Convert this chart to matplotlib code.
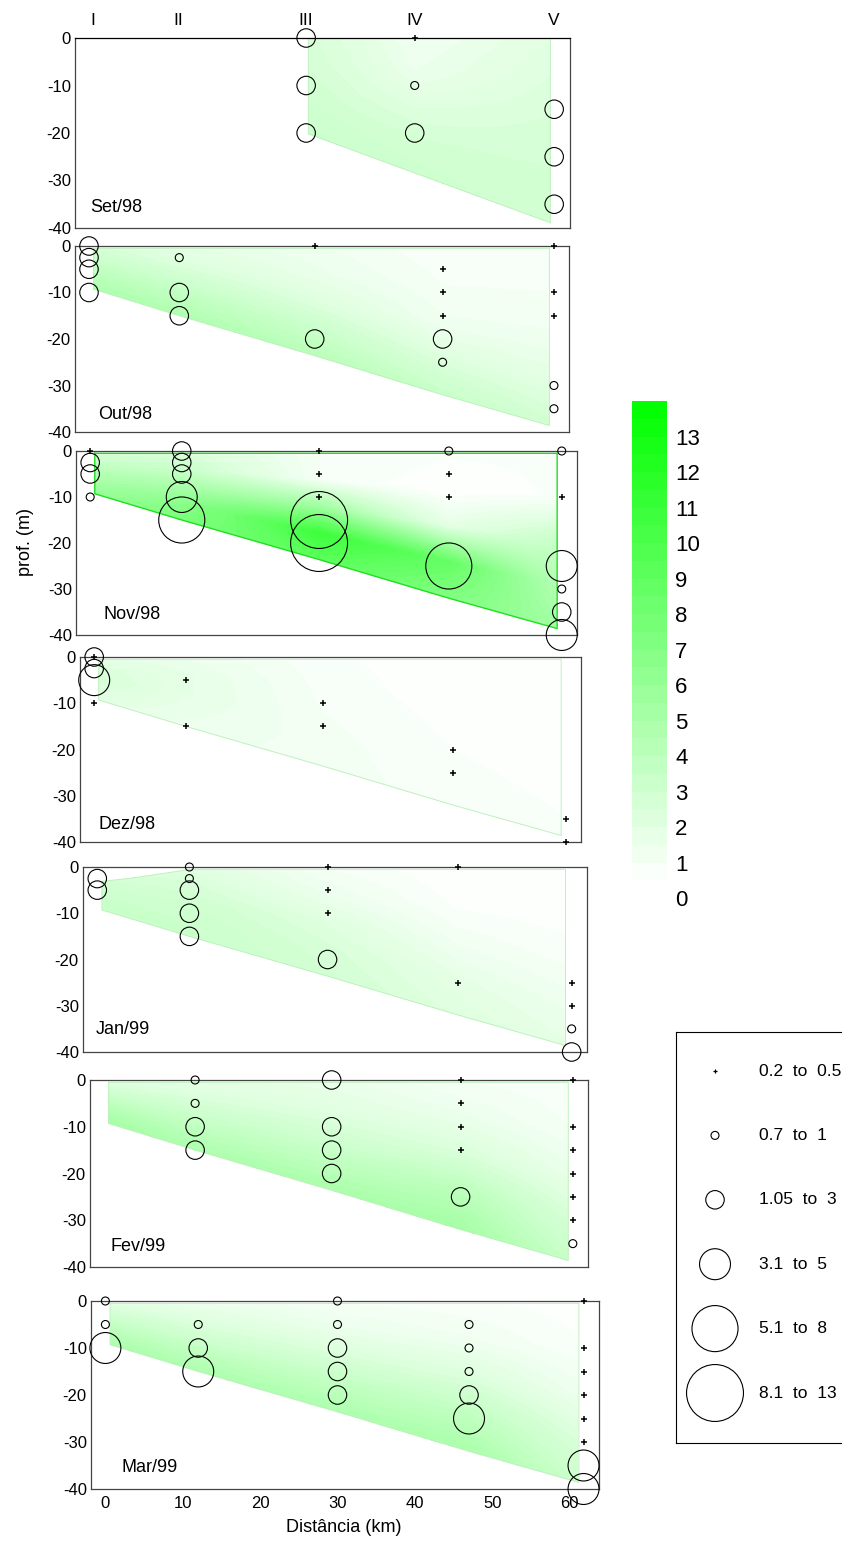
import numpy as np
import matplotlib
matplotlib.use("Agg")
import matplotlib.pyplot as plt
from matplotlib.colors import LinearSegmentedColormap, Normalize

plt.rcParams['font.family'] = ['Liberation Sans', 'DejaVu Sans']
plt.rcParams['axes.unicode_minus'] = False

# station positions along the section (km)
station_km = [0.0, 12.0, 30.0, 47.0, 61.8]
station_km_set = [0.5, 11.9, 28.8, 43.2, 61.7]
station_names = ["I", "II", "III", "IV", "V"]

# limits of the gridded section (km, m)
bottom_km = [0.6, 12.0, 30.0, 47.0, 61.2]
bottom_m = [-9.3, -15.0, -23.6, -32.0, -38.6]
top_km = [0.6, 61.2]
top_m = [-0.5, -0.5]
set98_bottom_km = [29.1, 61.2]
set98_bottom_m = [-20.2, -38.9]
set98_top_m = [0.0, 0.0]
jan99_top_km = [0.6, 4.0, 9.0, 12.0, 61.0]
jan99_top_m = [-3.1, -2.5, -1.3, -0.5, -0.5]

months = ["Set/98", "Out/98", "Nov/98", "Dez/98", "Jan/99", "Fev/99", "Mar/99"]

# bubbles: station index, depth (m), value
set98_st = [2, 2, 2, 3, 3, 3, 4, 4, 4]
set98_z = [0, -10, -20, 0, -10, -20, -15, -25, -35]
set98_v = [2.0, 2.2, 2.6, 0.4, 0.9, 2.3, 2.4, 2.6, 2.8]

out98_st = [0, 0, 0, 0, 1, 1, 1, 2, 2, 3, 3, 3, 3, 3, 4, 4, 4, 4, 4]
out98_z = [0, -2.5, -5, -10, -2.5, -10, -15, 0, -20, -5, -10, -15, -20, -25, 0, -10, -15, -30, -35]
out98_v = [2.5, 2.5, 2.6, 2.8, 0.9, 2.4, 2.6, 0.4, 2.4, 0.4, 0.4, 0.5, 2.2, 0.9, 0.3, 0.4, 0.4, 0.9, 0.9]

nov98_st = [0, 0, 0, 0, 1, 1, 1, 1, 1, 2, 2, 2, 2, 2, 3, 3, 3, 3, 4, 4, 4, 4, 4, 4]
nov98_z = [0, -2.5, -5, -10, 0, -2.5, -5, -10, -15, 0, -5, -10, -15, -20, 0, -5, -10, -25,
           0, -10, -25, -30, -35, -40]
nov98_v = [0.4, 2.2, 2.5, 0.9, 2.0, 2.2, 2.5, 4.5, 7.0, 0.3, 0.4, 0.5, 10.5, 12.0, 0.9, 0.4, 0.4, 7.5,
           0.9, 0.4, 4.5, 0.9, 2.5, 4.2]

dez98_st = [0, 0, 0, 0, 0, 1, 1, 2, 2, 3, 3, 4, 4]
dez98_z = [0, 0, -2.5, -5, -10, -5, -15, -10, -15, -20, -25, -35, -40]
dez98_v = [0.4, 2.0, 2.5, 4.0, 0.4, 0.4, 0.4, 0.4, 0.4, 0.4, 0.4, 0.4, 0.4]

jan99_st = [0, 0, 1, 1, 1, 1, 1, 2, 2, 2, 2, 3, 3, 4, 4, 4, 4]
jan99_z = [-2.5, -5, 0, -2.5, -5, -10, -15, 0, -5, -10, -20, 0, -25, -25, -30, -35, -40]
jan99_v = [2.0, 2.2, 0.9, 0.9, 2.3, 2.4, 2.5, 0.4, 0.4, 0.4, 2.3, 0.3, 0.4, 0.4, 0.4, 0.9, 2.2]

fev99_st = [1, 1, 1, 1, 2, 2, 2, 2, 3, 3, 3, 3, 3, 4, 4, 4, 4, 4, 4, 4]
fev99_z = [0, -5, -10, -15, 0, -10, -15, -20, 0, -5, -10, -15, -25, 0, -10, -15, -20, -25, -30, -35]
fev99_v = [0.9, 0.9, 2.6, 2.8, 2.2, 2.5, 2.7, 2.9, 0.4, 0.4, 0.4, 0.4, 2.9, 0.3, 0.3, 0.4, 0.4, 0.4, 0.4, 0.9]

mar99_st = [0, 0, 0, 1, 1, 1, 2, 2, 2, 2, 2, 3, 3, 3, 3, 3, 4, 4, 4, 4, 4, 4, 4, 4]
mar99_z = [0, -5, -10, -5, -10, -15, 0, -5, -10, -15, -20, -5, -10, -15, -20, -25,
           0, -10, -15, -20, -25, -30, -35, -40]
mar99_v = [0.9, 0.9, 4.0, 0.9, 2.5, 4.2, 0.9, 0.9, 2.6, 2.7, 2.9, 0.9, 0.9, 0.9, 2.7, 4.3,
           0.4, 0.4, 0.4, 0.4, 0.4, 0.4, 4.0, 4.1]

# colour field: one column per position, surface -> bottom
field_s = [0.0, 0.25, 0.5, 0.75, 1.0]
field_km = [0.6, 12.0, 30.0, 47.0, 61.2]
set98_field_km = [29.1, 36.0, 43.2, 52.0, 61.2]
set98_field = [[2.6, 2.7, 2.9, 3.1, 3.3], [2.0, 2.2, 2.5, 2.9, 3.2], [1.2, 1.5, 2.2, 2.8, 3.1],
               [1.6, 1.9, 2.4, 2.8, 3.0], [2.0, 2.3, 2.6, 2.8, 2.9]]
out98_field = [[2.6, 3.2, 3.8, 4.3, 4.8], [1.8, 2.4, 3.2, 4.0, 4.7], [1.3, 1.6, 2.3, 3.3, 4.2],
               [0.8, 1.0, 1.3, 2.3, 3.4], [1.0, 1.0, 1.3, 2.0, 2.9]]
nov98_field = [[2.6, 3.5, 4.5, 5.3, 6.1], [2.4, 3.4, 5.0, 6.6, 7.6], [1.0, 1.0, 5.5, 10.8, 9.2],
               [0.8, 0.5, 1.8, 8.7, 7.1], [0.8, 0.8, 3.4, 4.5, 5.5]]
dez98_field = [[1.8, 2.4, 2.6, 2.3, 1.8], [1.5, 1.8, 1.8, 1.6, 1.4], [0.8, 0.9, 1.0, 1.1, 1.1],
               [0.6, 0.6, 0.7, 0.8, 0.9], [0.5, 0.5, 0.6, 0.7, 0.8]]
jan99_field = [[2.8, 3.0, 3.2, 3.4, 3.5], [2.2, 2.6, 3.0, 3.2, 3.3], [1.0, 1.5, 2.2, 2.6, 2.8],
               [0.5, 0.7, 1.2, 1.8, 2.2], [0.5, 0.6, 0.9, 1.4, 1.8]]
fev99_field = [[2.1, 3.0, 3.9, 4.7, 5.3], [1.8, 2.5, 3.3, 4.1, 4.8], [1.6, 2.1, 2.9, 3.9, 5.0],
               [1.0, 1.6, 2.6, 4.2, 5.3], [0.8, 1.0, 1.6, 2.6, 3.4]]
mar99_field = [[2.0, 2.8, 3.6, 4.3, 4.9], [1.5, 2.2, 3.0, 4.0, 4.8], [1.0, 1.6, 2.6, 3.8, 4.8],
               [0.8, 1.3, 2.4, 3.8, 5.0], [0.6, 0.8, 1.4, 2.4, 3.2]]

samples = [(set98_st, set98_z, set98_v), (out98_st, out98_z, out98_v), (nov98_st, nov98_z, nov98_v),
           (dez98_st, dez98_z, dez98_v), (jan99_st, jan99_z, jan99_v), (fev99_st, fev99_z, fev99_v),
           (mar99_st, mar99_z, mar99_v)]
fields = [set98_field, out98_field, nov98_field, dez98_field, jan99_field, fev99_field, mar99_field]

# bubble classes
class_labels = ["0.2  to  0.5", "0.7  to  1", "1.05  to  3", "3.1  to  5", "5.1  to  8", "8.1  to  13"]
class_bins = [0.6, 1.02, 3.05, 5.05, 8.05]
class_sizes = [16, 33, 177, 497, 1100, 1680]

cbar_ticks = list(range(14))

W, H = 842, 1541
panel_px = [(75, 570, 38, 228), (75, 569, 246, 432), (76, 577, 451, 635), (80, 581, 657, 842),
            (83, 587, 867, 1052), (90, 588, 1080, 1267), (91, 599, 1301, 1489)]
label_pos = [(0.031, 0.11), (0.047, 0.093), (0.055, 0.109), (0.036, 0.097),
             (0.025, 0.124), (0.042, 0.112), (0.061, 0.112)]
xlim = (-1.86, 63.8)

cmap = LinearSegmentedColormap.from_list("wg", ["#ffffff", "#00ff00"])
norm = Normalize(vmin=0.5, vmax=14.0)


def px_rect(l, r, t, b):
    return [l / W, 1 - b / H, (r - l) / W, (b - t) / H]


def limits(i):
    if i == 0:
        return set98_bottom_km, set98_top_m, set98_bottom_km, set98_bottom_m
    if i == 4:
        bx = [0.6] + bottom_km[1:-1] + [61.0]
        return jan99_top_km, jan99_top_m, bx, bottom_m
    return top_km, top_m, bottom_km, bottom_m


def section_field(i, gx, gy):
    tx, ty, bx, by = limits(i)
    top = np.interp(gx, tx, ty)
    bot = np.interp(gx, bx, by)
    s = (top - gy) / (top - bot)
    fkm = np.array(set98_field_km if i == 0 else field_km)
    cols = np.array([np.interp(s, field_s, c) for c in fields[i]])
    k = np.clip(np.searchsorted(fkm, gx) - 1, 0, len(fkm) - 2)
    t = np.clip((gx - fkm[k]) / (fkm[k + 1] - fkm[k]), 0, 1)
    lo = np.take_along_axis(cols, k[None], 0)[0]
    hi = np.take_along_axis(cols, (k + 1)[None], 0)[0]
    val = lo + t * (hi - lo)
    outside = (s < 0) | (s > 1) | (gx < max(tx[0], bx[0])) | (gx > min(tx[-1], bx[-1]))
    return np.ma.masked_where(outside, val)


def outline(i):
    tx, ty, bx, by = limits(i)
    px = list(tx) + [tx[-1]] + list(bx[::-1]) + [tx[0]]
    py = list(ty) + [by[-1]] + list(by[::-1]) + [ty[0]]
    return px, py


fig = plt.figure(figsize=(W / 100, H / 100), dpi=100)
gx, gy = np.meshgrid(np.linspace(0, 62, 400), np.linspace(-40, 0, 260))

for i, (st, z, v) in enumerate(samples):
    ax = fig.add_axes(px_rect(*panel_px[i]))
    km = station_km_set if i == 0 else station_km
    xs = np.array([km[s] for s in st])
    zs = np.array(z, dtype=float)
    vs = np.array(v)

    ax.contourf(gx, gy, section_field(i, gx, gy), levels=np.arange(0, 14.01, 0.25),
                cmap=cmap, norm=norm, extend='both', zorder=1)
    ox, oy = outline(i)
    if i == 2:
        ax.plot(ox, oy, color='#22dd22', lw=1.0, zorder=2)
    else:
        ax.plot(ox, oy, color='#bff0bf', lw=0.7, zorder=2)

    cls = np.digitize(vs, class_bins)
    for c in range(6):
        sel = cls == c
        if not sel.any():
            continue
        if c == 0:
            ax.scatter(xs[sel], zs[sel], s=class_sizes[0], marker='+', color='k',
                       linewidths=1.1, zorder=4, clip_on=False)
        else:
            ax.scatter(xs[sel], zs[sel], s=class_sizes[c], marker='o', facecolors='none',
                       edgecolors='k', linewidths=0.8, zorder=4, clip_on=False)

    ax.set_xlim(*xlim)
    ax.set_ylim(-40, 0)
    ax.set_yticks([0, -10, -20, -30, -40])
    ax.tick_params(axis='y', length=0, pad=3, labelsize=12)
    if i == 6:
        ax.set_xticks(range(0, 61, 10))
        ax.tick_params(axis='x', length=0, pad=5, labelsize=12)
    else:
        ax.set_xticks([])
    for sp in ax.spines.values():
        sp.set_color('#444444')
        sp.set_linewidth(0.9)
    ax.text(label_pos[i][0], label_pos[i][1], months[i], transform=ax.transAxes,
            fontsize=13, ha='left', va='center')
    if i == 0:
        ax.spines['top'].set_color('k')
        tr = ax.get_xaxis_transform()
        for name, x in zip(station_names, station_km_set):
            ax.text(x, 1.09, name, transform=tr, fontsize=12.5, ha='center', va='center')

fig.text(25 / W, 1 - 542 / H, "prof. (m)", rotation=90, fontsize=13, ha='center', va='center')
fig.text(344 / W, 1 - 1527 / H, "Distância (km)", fontsize=13, ha='center', va='center')

# colour scale
cax = fig.add_axes(px_rect(632, 667, 400, 916))
edges = np.arange(0.5, 14.01, 0.5)
centers = (edges[:-1] + edges[1:]) / 2
cax.pcolormesh([0, 1], edges, centers[:, None], cmap=cmap, norm=norm)
cax.set_xlim(0, 1)
cax.set_ylim(-0.5, 14.03)
cax.set_xticks([])
cax.yaxis.tick_right()
cax.set_yticks(cbar_ticks)
cax.tick_params(axis='y', length=0, pad=6, labelsize=16)
for sp in cax.spines.values():
    sp.set_visible(False)

# bubble legend
lax = fig.add_axes(px_rect(676, 870, 1032, 1443))
lax.set_xlim(0, 194)
lax.set_ylim(411, 0)
lax.set_xticks([])
lax.set_yticks([])
for sp in lax.spines.values():
    sp.set_color('k')
    sp.set_linewidth(0.8)
rows = np.linspace(39, 361, len(class_labels))
for c, (lab, yy) in enumerate(zip(class_labels, rows)):
    if c == 0:
        lax.scatter([39], [yy], s=8, marker='+', color='k', linewidths=0.9)
    else:
        lax.scatter([39], [yy], s=class_sizes[c], marker='o', facecolors='none',
                    edgecolors='k', linewidths=0.8)
    lax.text(83, yy, lab, fontsize=12.5, ha='left', va='center')

fig.savefig("out.png", dpi=100)
